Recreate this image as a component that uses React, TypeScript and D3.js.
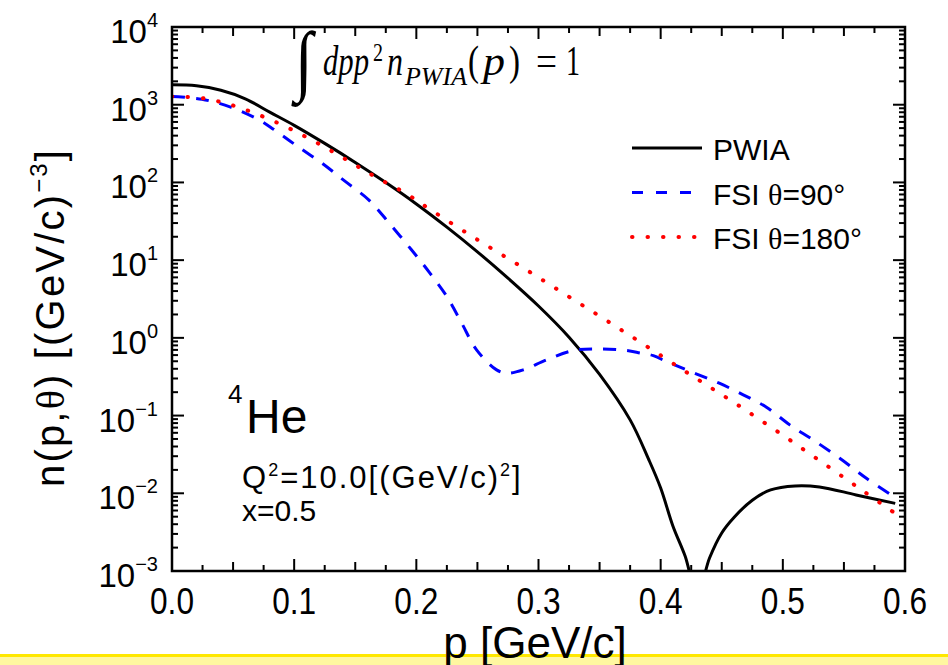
import React from "react";
import * as d3 from "d3";

const W = 948;
const H = 665;

// ---- data ----
const pwiaP = [0, 0.02, 0.04, 0.06, 0.08, 0.1, 0.125, 0.15, 0.175, 0.2, 0.225, 0.25, 0.275, 0.3, 0.325, 0.35, 0.375, 0.39, 0.4, 0.41, 0.42, 0.43, 0.44, 0.45, 0.46, 0.475, 0.49, 0.51, 0.53, 0.56, 0.592];
const pwiaN = [1803, 1750, 1532, 1191, 803, 543, 318, 181, 99.7, 52.9, 26.6, 12.8, 5.87, 2.57, 1.02, 0.339, 0.088, 0.0277, 0.0117, 0.0038, 0.00156, 0.0005, 0.00147, 0.00309, 0.00489, 0.00815, 0.01106, 0.01245, 0.01208, 0.00953, 0.00741];

const fsi90P = [0, 0.0245, 0.048, 0.071, 0.083, 0.1009, 0.1227, 0.1418, 0.161, 0.1778, 0.196, 0.2111, 0.225, 0.2371, 0.2493, 0.2657, 0.2739, 0.2875, 0.3066, 0.3284, 0.35, 0.372, 0.383, 0.394, 0.4048, 0.4266, 0.448, 0.4676, 0.4866, 0.5057, 0.5248, 0.5466, 0.5684, 0.588];
const fsi90N = [1275, 1175, 931, 640, 485, 305, 177, 103, 59.7, 29.9, 13.6, 6.81, 3.4, 1.55, 0.70, 0.387, 0.351, 0.387, 0.521, 0.687, 0.721, 0.687, 0.64, 0.59, 0.495, 0.357, 0.261, 0.185, 0.128, 0.0759, 0.0486, 0.0283, 0.0156, 0.0097];

const fsi180P = [0, 0.0245, 0.048, 0.071, 0.0955, 0.119, 0.143, 0.166, 0.191, 0.2138, 0.2493, 0.2848, 0.3203, 0.3557, 0.391, 0.4266, 0.459, 0.4948, 0.53, 0.5657, 0.59];
const fsi180N = [1275, 1216, 998, 741, 500, 321, 195, 119, 72.8, 42.3, 18.6, 8.45, 3.76, 1.67, 0.736, 0.318, 0.151, 0.0635, 0.0264, 0.0107, 0.0058];

const xTickValues = [0, 0.1, 0.2, 0.3, 0.4, 0.5, 0.6];
const yExponents = [4, 3, 2, 1, 0, -1, -2, -3];
const legendLabels = ["PWIA", "FSI ", "FSI "];
const legendAngles = ["", "=90°", "=180°"];

export default function App() {
  const L = 172, R = 905, T = 27, B = 571;
  const x = d3.scaleLinear().domain([0, 0.6]).range([L, R]);
  const y = d3.scaleLog().domain([1e-3, 1e4]).range([B, T]);
  const line = d3
    .line<[number, number]>()
    .x((d) => x(d[0]))
    .y((d) => y(d[1]))
    .curve(d3.curveCatmullRom.alpha(0.5));

  const zip = (a: number[], b: number[]) => a.map((v, i) => [v, b[i]] as [number, number]);

  const minorX = d3.range(0, 0.6001, 0.025);
  const yTicks = y.ticks();
  const isDecade = (v: number) => Math.abs(Math.log10(v) - Math.round(Math.log10(v))) < 1e-6;

  const sans = "'Liberation Sans', Arial, sans-serif";
  const serif = "'Liberation Serif', 'Times New Roman', serif";

  const series = [
    { d: zip(pwiaP, pwiaN), color: "#000", dash: "none", w: 3, cap: "butt" },
    { d: zip(fsi90P, fsi90N), color: "#0000ff", dash: "13 11", w: 3, cap: "butt" },
    { d: zip(fsi180P, fsi180N), color: "#ff0000", dash: "0.5 15", w: 4, cap: "round" },
  ];

  return (
    <svg
      width={W}
      height={H}
      style={{ position: "absolute", left: 0, top: 0, display: "block", background: "#fff" }}
    >
      <defs>
        <clipPath id="plotclip">
          <rect x={L} y={T} width={R - L} height={B - T} />
        </clipPath>
      </defs>
      <rect x={0} y={0} width={W} height={H} fill="#fff" />
      <rect x={0} y={654} width={W} height={11} fill="#fff7a0" />
      <rect x={0} y={654} width={W} height={3} fill="#ffe800" />

      {/* curves */}
      <g clipPath="url(#plotclip)">
        {series.map((s, i) => (
          <path
            key={i}
            d={line(s.d) || ""}
            fill="none"
            stroke={s.color}
            strokeWidth={s.w}
            strokeDasharray={s.dash}
            strokeLinecap={s.cap as any}
          />
        ))}
      </g>

      {/* x ticks (bottom and top) */}
      {minorX.map((v, i) => {
        const k = Math.round(v / 0.025);
        const len = k % 4 === 0 ? 12 : k % 2 === 0 ? 9 : 6;
        return (
          <g key={"xt" + i} stroke="#000" strokeWidth={2}>
            <line x1={x(v)} x2={x(v)} y1={B} y2={B - len} />
            <line x1={x(v)} x2={x(v)} y1={T} y2={T + len} />
          </g>
        );
      })}
      {/* y ticks (left and right) */}
      {yTicks.map((v, i) => {
        const len = isDecade(v) ? 12 : 6;
        return (
          <g key={"yt" + i} stroke="#000" strokeWidth={2}>
            <line x1={L} x2={L + len} y1={y(v)} y2={y(v)} />
            <line x1={R} x2={R - len} y1={y(v)} y2={y(v)} />
          </g>
        );
      })}
      <rect x={L} y={T} width={R - L} height={B - T} fill="none" stroke="#000" strokeWidth={2.5} />

      {/* x tick labels */}
      {xTickValues.map((v) => (
        <text
          key={"xl" + v}
          x={x(v) - 22}
          y={614}
          fontFamily={sans}
          fontSize={36}
          textLength={44}
          lengthAdjust="spacingAndGlyphs"
          fill="#000"
        >
          {d3.format(".1f")(v)}
        </text>
      ))}
      {/* y tick labels */}
      {yExponents.map((e) => (
        <text key={"yl" + e} x={158} y={y(Math.pow(10, e)) + 16} textAnchor="end" fontFamily={sans} fontSize={33} fill="#000">
          10
          <tspan fontSize={20} dy={-16}>
            {e < 0 ? "\u2212" + Math.abs(e) : String(e)}
          </tspan>
        </text>
      ))}

      {/* axis titles */}
      <text x={535} y={658} textAnchor="middle" fontFamily={sans} fontSize={44} fill="#000">
        p [GeV/c]
      </text>
      <text
        x={-487}
        y={64}
        transform="rotate(-90)"
        fontFamily={sans}
        fontSize={40}
        textLength={337}
        lengthAdjust="spacing"
        fill="#000"
      >
        n(p,<tspan fontFamily={serif}>θ</tspan>) [(GeV/c)
        <tspan fontSize={24} dy={-17}>
          −3
        </tspan>
        <tspan dy={17}>]</tspan>
      </text>

      {/* formula */}
      <text x={295} y={86} fontFamily={serif} fontSize={78} textLength={18} lengthAdjust="spacingAndGlyphs" fill="#000">
        ∫
      </text>
      <text x={323} y={75} fontFamily={serif} fontStyle="italic" fontSize={42} textLength={46} lengthAdjust="spacingAndGlyphs" fill="#000">dpp</text>
      <text x={373} y={61} fontFamily={serif} fontSize={25} textLength={10} lengthAdjust="spacingAndGlyphs" fill="#000">2</text>
      <text x={387} y={75} fontFamily={serif} fontStyle="italic" fontSize={42} textLength={16} lengthAdjust="spacingAndGlyphs" fill="#000">n</text>
      <text x={405} y={85} fontFamily={serif} fontStyle="italic" fontSize={26} textLength={62} lengthAdjust="spacingAndGlyphs" fill="#000">PWIA</text>
      <text x={468} y={75} fontFamily={serif} fontSize={42} textLength={11} lengthAdjust="spacingAndGlyphs" fill="#000">(</text>
      <text x={483} y={75} fontFamily={serif} fontStyle="italic" fontSize={42} textLength={22} lengthAdjust="spacingAndGlyphs" fill="#000">p</text>
      <text x={509} y={75} fontFamily={serif} fontSize={42} textLength={11} lengthAdjust="spacingAndGlyphs" fill="#000">)</text>
      <text x={536} y={75} fontFamily={serif} fontSize={42} textLength={21} lengthAdjust="spacingAndGlyphs" fill="#000">=</text>
      <text x={566} y={75} fontFamily={serif} fontSize={42} textLength={14} lengthAdjust="spacingAndGlyphs" fill="#000">1</text>

      {/* legend */}
      {series.map((s, i) => {
        const ly = 148 + i * 44.5;
        return (
          <g key={"lg" + i}>
            <line
              x1={632}
              x2={702}
              y1={ly}
              y2={ly}
              stroke={s.color}
              strokeWidth={s.w}
              strokeDasharray={i === 1 ? "11 13" : s.dash}
              strokeLinecap={s.cap as any}
            />
            <text x={713} y={ly + 12} fontFamily={sans} fontSize={30} fill="#000">
              {legendLabels[i]}
              {i > 0 && <tspan fontFamily={serif}>θ</tspan>}
              {legendAngles[i]}
            </text>
          </g>
        );
      })}

      {/* annotations */}
      <text x={228} y={403} fontFamily={sans} fontSize={26} fill="#000">4</text>
      <text x={246} y={433} fontFamily={sans} fontSize={48} fill="#000">He</text>
      <text x={242} y={488} fontFamily={sans} fontSize={31} letterSpacing={2} fill="#000">
        Q<tspan fontSize={18} dy={-12}>2</tspan>
        <tspan dy={12}>=10.0[(GeV/c)</tspan>
        <tspan fontSize={18} dy={-12}>2</tspan>
        <tspan dy={12}>]</tspan>
      </text>
      <text x={242} y={521} fontFamily={sans} fontSize={30} fill="#000">x=0.5</text>
    </svg>
  );
}
